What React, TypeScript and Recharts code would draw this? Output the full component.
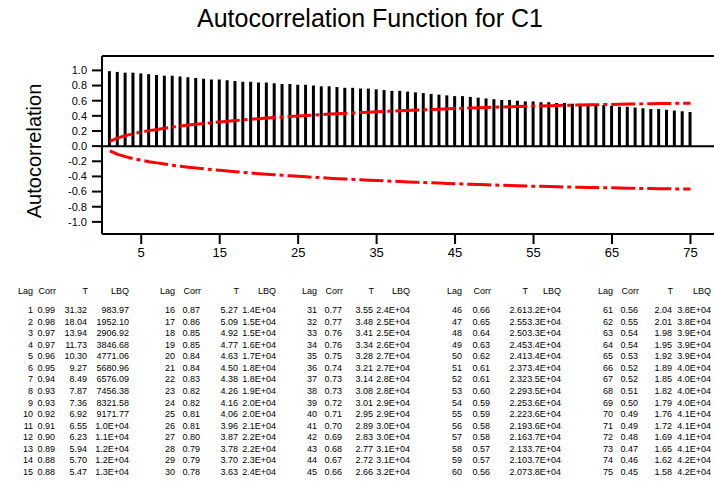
import React from 'react';
import {
  ComposedChart,
  Bar,
  Line,
  XAxis,
  YAxis,
  ReferenceLine,
} from 'recharts';

const lags = [
  1, 2, 3, 4, 5, 6, 7, 8, 9, 10, 11, 12, 13, 14, 15,
  16, 17, 18, 19, 20, 21, 22, 23, 24, 25, 26, 27, 28, 29, 30,
  31, 32, 33, 34, 35, 36, 37, 38, 39, 40, 41, 42, 43, 44, 45,
  46, 47, 48, 49, 50, 51, 52, 53, 54, 55, 56, 57, 58, 59, 60,
  61, 62, 63, 64, 65, 66, 67, 68, 69, 70, 71, 72, 73, 74, 75,
];

const corr = [
  0.99, 0.98, 0.97, 0.97, 0.96, 0.95, 0.94, 0.93, 0.93, 0.92, 0.91, 0.9, 0.89, 0.88, 0.88,
  0.87, 0.86, 0.85, 0.85, 0.84, 0.84, 0.83, 0.82, 0.82, 0.81, 0.81, 0.8, 0.79, 0.79, 0.78,
  0.77, 0.77, 0.76, 0.76, 0.75, 0.74, 0.73, 0.73, 0.72, 0.71, 0.7, 0.69, 0.68, 0.67, 0.66,
  0.66, 0.65, 0.64, 0.63, 0.62, 0.61, 0.61, 0.6, 0.59, 0.59, 0.58, 0.58, 0.57, 0.57, 0.56,
  0.56, 0.55, 0.54, 0.54, 0.53, 0.52, 0.52, 0.51, 0.5, 0.49, 0.49, 0.48, 0.47, 0.46, 0.45,
];

const tStat = [
  31.32, 18.04, 13.94, 11.73, 10.3, 9.27, 8.49, 7.87, 7.36, 6.92, 6.55, 6.23, 5.94, 5.7, 5.47,
  5.27, 5.09, 4.92, 4.77, 4.63, 4.5, 4.38, 4.26, 4.16, 4.06, 3.96, 3.87, 3.78, 3.7, 3.63,
  3.55, 3.48, 3.41, 3.34, 3.28, 3.21, 3.14, 3.08, 3.01, 2.95, 2.89, 2.83, 2.77, 2.72, 2.66,
  2.61, 2.55, 2.5, 2.45, 2.41, 2.37, 2.32, 2.29, 2.25, 2.22, 2.19, 2.16, 2.13, 2.1, 2.07,
  2.04, 2.01, 1.98, 1.95, 1.92, 1.89, 1.85, 1.82, 1.79, 1.76, 1.72, 1.69, 1.65, 1.62, 1.58,
];

const lbq = [
  '983.97', '1952.10', '2906.92', '3846.68', '4771.06', '5680.96', '6576.09', '7456.38',
  '8321.58', '9171.77', '1.0E+04', '1.1E+04', '1.2E+04', '1.2E+04', '1.3E+04',
  '1.4E+04', '1.5E+04', '1.5E+04', '1.6E+04', '1.7E+04', '1.8E+04', '1.8E+04', '1.9E+04',
  '2.0E+04', '2.0E+04', '2.1E+04', '2.2E+04', '2.2E+04', '2.3E+04', '2.4E+04',
  '2.4E+04', '2.5E+04', '2.5E+04', '2.6E+04', '2.7E+04', '2.7E+04', '2.8E+04', '2.8E+04',
  '2.9E+04', '2.9E+04', '3.0E+04', '3.0E+04', '3.1E+04', '3.1E+04', '3.2E+04',
  '3.2E+04', '3.3E+04', '3.3E+04', '3.4E+04', '3.4E+04', '3.4E+04', '3.5E+04', '3.5E+04',
  '3.6E+04', '3.6E+04', '3.6E+04', '3.7E+04', '3.7E+04', '3.7E+04', '3.8E+04',
  '3.8E+04', '3.8E+04', '3.9E+04', '3.9E+04', '3.9E+04', '4.0E+04', '4.0E+04', '4.0E+04',
  '4.0E+04', '4.1E+04', '4.1E+04', '4.1E+04', '4.1E+04', '4.2E+04', '4.2E+04',
];

// 95% limits
const limit = [
  0.063, 0.109, 0.139, 0.165, 0.186, 0.205, 0.221, 0.237, 0.252, 0.265, 0.278, 0.289, 0.299, 0.309, 0.319,
  0.329, 0.338, 0.347, 0.355, 0.363, 0.371, 0.378, 0.385, 0.392, 0.399, 0.405, 0.411, 0.417, 0.423, 0.429,
  0.434, 0.439, 0.444, 0.449, 0.454, 0.459, 0.463, 0.468, 0.472, 0.476, 0.48, 0.484, 0.488, 0.492, 0.496,
  0.5, 0.504, 0.507, 0.511, 0.514, 0.517, 0.52, 0.523, 0.526, 0.529, 0.531, 0.534, 0.536, 0.539, 0.541,
  0.543, 0.545, 0.547, 0.549, 0.551, 0.553, 0.555, 0.557, 0.559, 0.56, 0.562, 0.563, 0.565, 0.566, 0.567,
];

const xTicks = [5, 15, 25, 35, 45, 55, 65, 75];
const yTicks = [-1, -0.8, -0.6, -0.4, -0.2, 0, 0.2, 0.4, 0.6, 0.8, 1];

const data = lags.map((lag, i) => ({
  lag,
  corr: corr[i],
  upper: limit[i],
  lower: -limit[i],
}));

// table column right edges, one per block of 15 lags
const lagX = [33, 175, 317, 462, 613];
const corrX = [55, 200, 342, 490, 638];
const tX = [87, 238, 373, 527, 672];
const lbqX = [129, 276, 410, 561, 711];

const FONT = '"Liberation Sans", Arial, Helvetica, sans-serif';

export default function App() {
  const rowH = 11.57;
  const headY = 294;
  const firstY = 313;

  return (
    <div style={{ position: 'absolute', left: 0, top: 0, width: 714, height: 490, background: '#fff' }}>
      <ComposedChart
        width={714}
        height={270}
        data={data}
        margin={{ top: 56, right: 0, bottom: 0, left: 0 }}
        style={{ fontFamily: FONT }}
      >
        <XAxis
          dataKey="lag"
          type="number"
          domain={[0, 78]}
          ticks={xTicks}
          interval={0}
          allowDataOverflow
          height={36}
          tickSize={10}
          tickMargin={4}
          axisLine={{ stroke: '#000', strokeWidth: 2 }}
          tickLine={{ stroke: '#000', strokeWidth: 2 }}
          tick={{ fill: '#000', fontSize: 13 }}
        />
        <YAxis
          type="number"
          domain={[-1.16, 1.19]}
          ticks={yTicks}
          interval={0}
          allowDataOverflow
          width={102}
          tickSize={10}
          tickMargin={5}
          tickFormatter={(v: number) => v.toFixed(1)}
          axisLine={{ stroke: '#000', strokeWidth: 2 }}
          tickLine={{ stroke: '#000', strokeWidth: 2 }}
          tick={{ fill: '#000', fontSize: 11 }}
        />
        <ReferenceLine y={1.19} stroke="#000" strokeWidth={2} />
        <Bar dataKey="corr" fill="#000" barSize={3} isAnimationActive={false} />
        <ReferenceLine y={0} stroke="#000" strokeWidth={2} />
        <Line
          dataKey="upper"
          type="linear"
          stroke="#ff0000"
          strokeWidth={3}
          strokeDasharray="24 4 4 4"
          dot={false}
          isAnimationActive={false}
        />
        <Line
          dataKey="lower"
          type="linear"
          stroke="#ff0000"
          strokeWidth={3}
          strokeDasharray="24 4 4 4"
          dot={false}
          isAnimationActive={false}
        />
      </ComposedChart>

      <svg
        width={714}
        height={490}
        style={{ position: 'absolute', left: 0, top: 0, pointerEvents: 'none', fontFamily: FONT }}
      >
        <text x={370} y={27} textAnchor="middle" fontSize={25} fill="#000">
          Autocorrelation Function for C1
        </text>
        <text
          x={0}
          y={0}
          transform="translate(41 151) rotate(-90)"
          textAnchor="middle"
          fontSize={20}
          fill="#000"
        >
          Autocorrelation
        </text>

        {lagX.map((lx, g) => (
          <g key={g} fontSize={9} fill="#000">
            <text x={lx} y={headY} textAnchor="end">Lag</text>
            <text x={corrX[g] + 1} y={headY} textAnchor="end">Corr</text>
            <text x={tX[g] + 1} y={headY} textAnchor="end">T</text>
            <text x={lbqX[g]} y={headY} textAnchor="end">LBQ</text>
            {lags.slice(g * 15, g * 15 + 15).map((lag, r) => {
              const i = g * 15 + r;
              const y = firstY + r * rowH;
              return (
                <g key={lag}>
                  <text x={lx} y={y} textAnchor="end">{lag}</text>
                  <text x={corrX[g]} y={y} textAnchor="end">{corr[i].toFixed(2)}</text>
                  <text x={tX[g]} y={y} textAnchor="end">{tStat[i].toFixed(2)}</text>
                  <text x={lbqX[g]} y={y} textAnchor="end">{lbq[i]}</text>
                </g>
              );
            })}
          </g>
        ))}
      </svg>
    </div>
  );
}
